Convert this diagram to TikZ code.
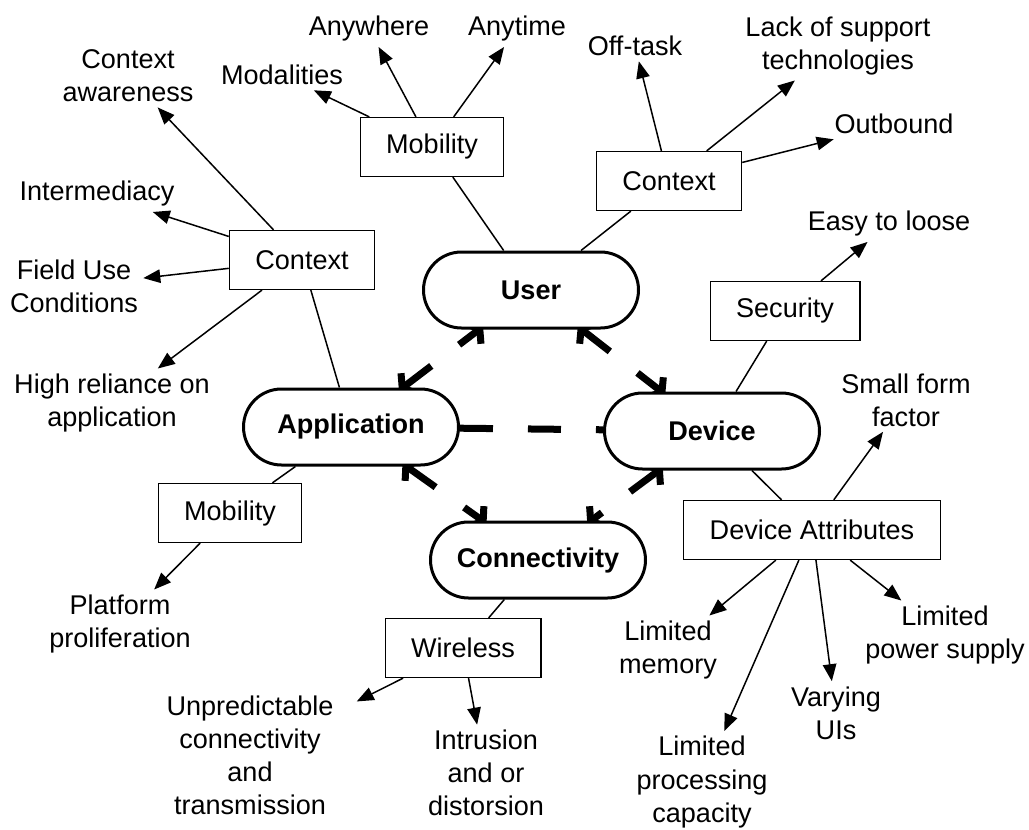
\documentclass[tikz,border=0pt]{standalone}
\usepackage{fontspec}
\setmainfont{Liberation Sans}
\usepackage{tikz}
\usetikzlibrary{arrows.meta}
\usetikzlibrary{shapes.misc}
\usetikzlibrary{backgrounds}
\newcommand{\labelsize}{\fontsize{15.4}{18.8}\selectfont}
\tikzset{
	pill/.style={rounded rectangle, draw, fill=white, line width=0.06cm, minimum width=4.3cm, minimum height=1.52cm, inner xsep=0pt, font=\labelsize\bfseries},
	attrbox/.style={rectangle, draw, line width=0.025cm, minimum height=1.18cm, inner xsep=0.52cm, font=\labelsize},
	leaf/.style={align=center, inner sep=0.1cm, font=\labelsize},
	tie/.style={line width=0.03cm},
	pointer/.style={line width=0.03cm, -{Triangle[length=0.34cm, width=0.27cm]}},
	relation/.style={line width=0.14cm, dash pattern=on 0.66cm off 0.7cm},
	relarrow/.style={relation, {Straight Barb[length=0.16cm, width=0.5cm]}-{Straight Barb[length=0.16cm, width=0.5cm]}, shorten <=-0.1cm, shorten >=-0.1cm},
}

\begin{document}
\begin{tikzpicture}
	\useasboundingbox (0,0) rectangle (20.58,-16.6);

	\node[pill] (user) at (10.62,-5.80) {User};
	\node[pill] (application) at (7.02,-8.54) {Application};
	\node[pill] (device) at (14.24,-8.62) {Device};
	\node[pill] (connectivity) at (10.76,-11.20) {Connectivity};

	\node[attrbox] (mobtop) at (8.64,-2.94) {Mobility};
	\node[attrbox] (ctxright) at (13.38,-3.62) {Context};
	\node[attrbox] (ctxleft) at (6.04,-5.20) {Context};
	\node[attrbox] (security) at (15.70,-6.22) {Security};
	\node[attrbox] (devattr) at (16.24,-10.60) {Device Attributes};
	\node[attrbox] (mobbottom) at (4.60,-10.26) {Mobility};
	\node[attrbox] (wireless) at (9.26,-12.96) {Wireless};

	\node[leaf] (anywhere) at (7.38,-0.58) {Anywhere};
	\node[leaf] (anytime) at (10.34,-0.58) {Anytime};
	\node[leaf] (modalities) at (5.64,-1.50) {Modalities};
	\node[leaf] (ctxaware) at (2.56,-1.52) {Context\\awareness};
	\node[leaf] (offtask) at (12.70,-0.92) {Off-task};
	\node[leaf] (lacksupport) at (16.76,-0.92) {Lack of support\\technologies};
	\node[leaf] (outbound) at (17.88,-2.48) {Outbound};
	\node[leaf] (intermed) at (1.94,-3.88) {Intermediacy};
	\node[leaf] (fielduse) at (1.48,-5.72) {Field Use\\Conditions};
	\node[leaf] (highrel) at (2.24,-8.06) {High reliance on\\application};
	\node[leaf] (easyloose) at (17.78,-4.48) {Easy to loose};
	\node[leaf] (smallform) at (18.12,-8.00) {Small form\\factor};
	\node[leaf] (limmemory) at (13.36,-13.00) {Limited\\memory};
	\node[leaf] (limproc) at (14.04,-15.64) {Limited\\processing\\capacity};
	\node[leaf] (varyui) at (16.72,-14.26) {Varying\\UIs};
	\node[leaf] (limpower) at (18.90,-12.70) {Limited\\power supply};
	\node[leaf] (platform) at (2.40,-12.48) {Platform\\proliferation};
	\node[leaf] (unpredict) at (5.00,-15.10) {Unpredictable\\connectivity\\and\\transmission};
	\node[leaf] (intrusion) at (9.72,-15.46) {Intrusion\\and or\\distorsion};

	\begin{scope}[on background layer]
		\draw[relarrow] (application) -- (user);
		\draw[relarrow] (user) -- (device);
		\draw[relation] (application) -- (device);
		\draw[relarrow] (application) -- (connectivity);
		\draw[relarrow] (device) -- (connectivity);
	\end{scope}

	\draw[tie] (mobtop) -- (user);
	\draw[tie] (ctxright) -- (user);
	\draw[tie] (ctxleft) -- (application);
	\draw[tie] (application) -- (mobbottom);
	\draw[tie] (device) -- (security);
	\draw[tie] (device) -- (devattr);
	\draw[tie] (connectivity) -- (wireless);

	\draw[pointer] (mobtop) -- (modalities);
	\draw[pointer] (mobtop) -- (anywhere);
	\draw[pointer] (mobtop) -- (anytime);
	\draw[pointer] (ctxright) -- (offtask);
	\draw[pointer] (ctxright) -- (lacksupport);
	\draw[pointer] (ctxright) -- (outbound);
	\draw[pointer] (ctxleft) -- (ctxaware);
	\draw[pointer] (ctxleft) -- (intermed);
	\draw[pointer] (ctxleft) -- (fielduse);
	\draw[pointer] (ctxleft) -- (highrel);
	\draw[pointer] (security) -- (easyloose);
	\draw[pointer] (devattr) -- (smallform);
	\draw[pointer] (devattr) -- (limmemory);
	\draw[pointer] (devattr) -- (limproc);
	\draw[pointer] (devattr) -- (varyui);
	\draw[pointer] (devattr) -- (limpower);
	\draw[pointer] (mobbottom) -- (platform);
	\draw[pointer, shorten >=0.4cm] (wireless) -- (unpredict);
	\draw[pointer] (wireless) -- (intrusion);
\end{tikzpicture}
\end{document}
